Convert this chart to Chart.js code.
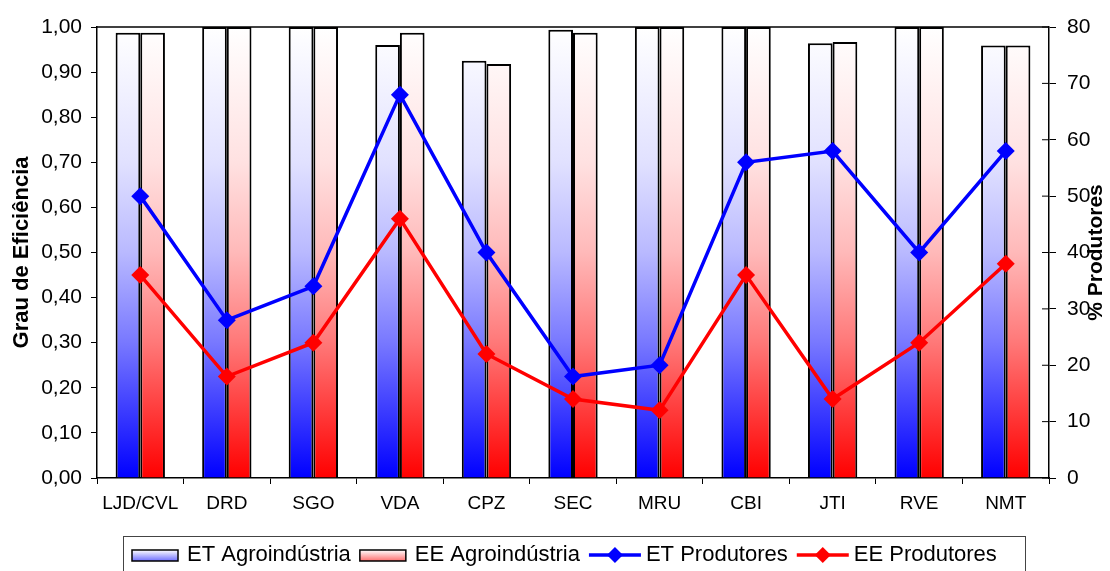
<!DOCTYPE html>
<html>
<head>
<meta charset="utf-8">
<script src="https://cdn.jsdelivr.net/npm/chart.js@4.4.1/dist/chart.umd.min.js"></script>
<style>
    html, body { margin: 0; padding: 0; background: #fff; }
    #chartBox { width: 1110px; height: 571px; }
</style>
</head>
<body>
<div id="chartBox"><canvas id="chart" width="1110" height="571"></canvas></div>
<script>
// Data
var categories = ['LJD/CVL', 'DRD', 'SGO', 'VDA', 'CPZ', 'SEC', 'MRU', 'CBI', 'JTI', 'RVE', 'NMT'];
var etAgroindustria = [0.987, 1.00, 1.00, 0.960, 0.925, 0.994, 1.00, 1.00, 0.964, 1.00, 0.959];
var eeAgroindustria = [0.987, 1.00, 1.00, 0.987, 0.918, 0.987, 1.00, 1.00, 0.967, 1.00, 0.959];
var etProdutores = [50, 28, 34, 68, 40, 18, 20, 56, 58, 40, 58];
var eeProdutores = [36, 18, 24, 46, 22, 14, 12, 36, 14, 24, 38];

// Tick values of both value axes
var efficiencyTicks = [0, 0.1, 0.2, 0.3, 0.4, 0.5, 0.6, 0.7, 0.8, 0.9, 1.0];
var producerTicks = [0, 10, 20, 30, 40, 50, 60, 70, 80];

var FONT = '"Liberation Sans", Arial, sans-serif';

// Color stops from the bottom (0) to the top (1) of the bars
var blueStops = [[0, 'rgb(0,0,255)'], [0.15, 'rgb(60,60,255)'], [0.3, 'rgb(120,120,255)'],
    [0.5, 'rgb(185,185,255)'], [0.7, 'rgb(225,225,255)'], [1, 'rgb(255,255,255)']];
var redStops = [[0, 'rgb(255,0,0)'], [0.15, 'rgb(255,60,60)'], [0.3, 'rgb(255,120,120)'],
    [0.5, 'rgb(255,185,185)'], [0.7, 'rgb(255,225,225)'], [1, 'rgb(255,255,255)']];

// Builds a vertical gradient between two y positions
function makeGradient(ctx, yBottom, yTop, stops) {
    var g = ctx.createLinearGradient(0, yBottom, 0, yTop);
    stops.forEach(function (s) { g.addColorStop(s[0], s[1]); });
    return g;
}

// Scriptable bar fill: gradient over the chart area
function barFill(stops) {
    return function (context) {
        var area = context.chart.chartArea;
        if (!area) return stops[0][1];
        return makeGradient(context.chart.ctx, area.bottom, area.top, stops);
    };
}

// Frame, inner ticks of the right axis, axis titles and the boxed legend
var decorationsPlugin = {
    id: 'decorations',
    beforeDatasetsDraw: function (chart) {
        var ctx = chart.ctx;
        var area = chart.chartArea;
        var right = chart.scales.yProd;
        ctx.save();
        ctx.strokeStyle = '#000';
        ctx.lineWidth = 1.5;
        // top line of the plot frame
        ctx.beginPath();
        ctx.moveTo(area.left, area.top);
        ctx.lineTo(area.right, area.top);
        ctx.stroke();
        // right axis ticks also cross into the plot
        ctx.lineWidth = 1;
        right.ticks.forEach(function (t) {
            var y = right.getPixelForValue(t.value);
            ctx.beginPath();
            ctx.moveTo(area.right - 7, y);
            ctx.lineTo(area.right, y);
            ctx.stroke();
        });
        ctx.restore();
    },
    afterDraw: function (chart) {
        var ctx = chart.ctx;
        var area = chart.chartArea;
        var midY = (area.top + area.bottom) / 2;
        ctx.save();
        ctx.fillStyle = '#000';
        ctx.textAlign = 'center';
        ctx.textBaseline = 'middle';

        // Axis titles, both read from bottom to top
        ctx.font = 'bold 22px ' + FONT;
        ctx.save();
        ctx.translate(22, midY);
        ctx.rotate(-Math.PI / 2);
        ctx.fillText('Grau de Eficiência', 0, 0);
        ctx.restore();

        ctx.font = 'bold 21px ' + FONT;
        ctx.save();
        ctx.translate(1096, midY);
        ctx.rotate(-Math.PI / 2);
        ctx.fillText('% Produtores', 0, 0);
        ctx.restore();

        // Legend box
        ctx.strokeStyle = '#444';
        ctx.lineWidth = 1;
        ctx.strokeRect(123.5, 536.5, 902, 40);

        ctx.font = '22px ' + FONT;
        ctx.textAlign = 'left';
        var x = 132;
        var cy = 555;
        chart.data.datasets.forEach(function (ds) {
            if (ds.type === 'bar') {
                ctx.fillStyle = makeGradient(ctx, cy + 6, cy - 5, ds.legendStops);
                ctx.fillRect(x, cy - 5, 46, 11);
                ctx.strokeStyle = '#000';
                ctx.lineWidth = 1.5;
                ctx.strokeRect(x, cy - 5, 46, 11);
                x += 46 + 9;
            } else {
                ctx.strokeStyle = ds.borderColor;
                ctx.lineWidth = 3.5;
                ctx.beginPath();
                ctx.moveTo(x, cy);
                ctx.lineTo(x + 52, cy);
                ctx.stroke();
                ctx.fillStyle = ds.borderColor;
                ctx.beginPath();
                ctx.moveTo(x + 26 - 8, cy);
                ctx.lineTo(x + 26, cy - 8);
                ctx.lineTo(x + 26 + 8, cy);
                ctx.lineTo(x + 26, cy + 8);
                ctx.closePath();
                ctx.fill();
                x += 52 + 5;
            }
            ctx.fillStyle = '#000';
            ctx.fillText(ds.label, x, cy);
            x += ctx.measureText(ds.label).width + 9;
        });
        ctx.restore();
    }
};

var legendBlue = [[0, 'rgb(110,110,255)'], [1, 'rgb(255,255,255)']];
var legendRed = [[0, 'rgb(255,110,110)'], [1, 'rgb(255,255,255)']];

var ctx = document.getElementById('chart').getContext('2d');
var chart = new Chart(ctx, {
    data: {
        labels: categories,
        datasets: [{
            type: 'bar',
            label: 'ET Agroindústria',
            data: etAgroindustria,
            yAxisID: 'y',
            backgroundColor: barFill(blueStops),
            legendStops: legendBlue,
            borderColor: '#000',
            borderWidth: 2,
            borderSkipped: 'start',
            categoryPercentage: 0.57,
            barPercentage: 1.0,
            order: 2
        }, {
            type: 'bar',
            label: 'EE Agroindústria',
            data: eeAgroindustria,
            yAxisID: 'y',
            backgroundColor: barFill(redStops),
            legendStops: legendRed,
            borderColor: '#000',
            borderWidth: 2,
            borderSkipped: 'start',
            categoryPercentage: 0.57,
            barPercentage: 1.0,
            order: 2
        }, {
            type: 'line',
            label: 'ET Produtores',
            data: etProdutores,
            yAxisID: 'yProd',
            borderColor: '#0000ff',
            backgroundColor: '#0000ff',
            borderWidth: 3.5,
            pointStyle: 'rectRot',
            pointRadius: 9,
            pointBorderWidth: 0,
            tension: 0,
            order: 1
        }, {
            type: 'line',
            label: 'EE Produtores',
            data: eeProdutores,
            yAxisID: 'yProd',
            borderColor: '#ff0000',
            backgroundColor: '#ff0000',
            borderWidth: 3.5,
            pointStyle: 'rectRot',
            pointRadius: 9,
            pointBorderWidth: 0,
            tension: 0,
            order: 0
        }]
    },
    options: {
        responsive: false,
        animation: false,
        devicePixelRatio: 1,
        layout: { padding: { left: 0, right: 0, top: 27, bottom: 0 } },
        plugins: {
            legend: { display: false },
            tooltip: { enabled: false }
        },
        scales: {
            x: {
                type: 'category',
                afterFit: function (scale) { scale.height = 93; },
                grid: { display: true, drawOnChartArea: false, offset: true, tickLength: 6, color: '#000', lineWidth: 1 },
                border: { display: true, color: '#000', width: 1.5 },
                ticks: { color: '#000', padding: 8, maxRotation: 0, autoSkip: false, font: { family: FONT, size: 19 } }
            },
            y: {
                position: 'left',
                min: 0,
                max: 1,
                afterFit: function (scale) { scale.width = 97; },
                afterBuildTicks: function (scale) {
                    scale.ticks = efficiencyTicks.map(function (v) { return { value: v }; });
                },
                grid: { display: true, drawOnChartArea: false, tickLength: 6, color: '#000', lineWidth: 1 },
                border: { display: true, color: '#000', width: 1.5 },
                ticks: {
                    color: '#000',
                    padding: 9,
                    font: { family: FONT, size: 21 },
                    callback: function (v) { return Number(v).toFixed(2).replace('.', ','); }
                }
            },
            yProd: {
                position: 'right',
                min: 0,
                max: 80,
                afterFit: function (scale) { scale.width = 61; },
                afterBuildTicks: function (scale) {
                    scale.ticks = producerTicks.map(function (v) { return { value: v }; });
                },
                grid: { display: true, drawOnChartArea: false, tickLength: 7, color: '#000', lineWidth: 1 },
                border: { display: true, color: '#000', width: 1.5 },
                ticks: { color: '#000', padding: 11, font: { family: FONT, size: 21 } }
            }
        }
    },
    plugins: [decorationsPlugin]
});
</script>
</body>
</html>
